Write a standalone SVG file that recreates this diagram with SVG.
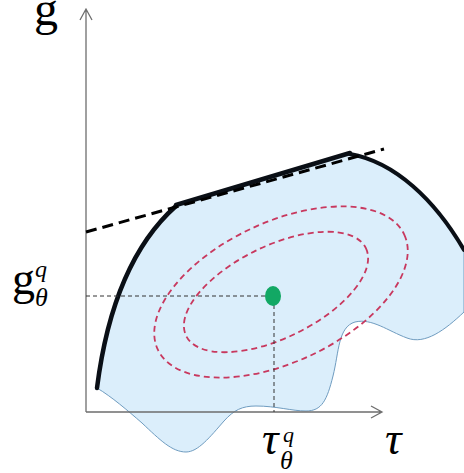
<svg xmlns="http://www.w3.org/2000/svg" width="464" height="473" viewBox="0 0 464 473">
<defs>
<style>
.axis{fill:none;stroke:#6e6e6e;stroke-width:1.3}
.blob{fill:#dbeefb;stroke:#6f9cc0;stroke-width:1}
.front{fill:none;stroke:#0a0f16;stroke-linecap:round}
.tangent{fill:none;stroke:#000;stroke-width:3;stroke-dasharray:11 6}
.contour{fill:none;stroke:#c8385e;stroke-width:1.8;stroke-dasharray:6 4}
.guide{fill:none;stroke:#333;stroke-width:1;stroke-dasharray:4 3}
.lbl{font-family:"Liberation Serif","Times New Roman",serif;fill:#000}
.it{font-style:italic}
</style>
</defs>
<g id="region">
<path class="blob" d="M97,388 Q113,262 176,206 L350,154 C395,162 435,200 464,250 L464,312 C445,330 425,345 407,338 C388,331 372,318 355,322 C338,327 339,352 333,376 C327,400 322,411 306,411 C292,411 276,406 256,406 C242,406 234,410 224,421 C210,437 198,452 186,452 C172,452 160,440 142,423 C127,410 112,397 97,388 Z"/>
</g>
<g id="contours">
<ellipse class="contour" cx="281" cy="292" rx="136" ry="70" transform="rotate(-25 281 292)"/>
<ellipse class="contour" cx="276" cy="292" rx="100" ry="46" transform="rotate(-26 276 292)"/>
</g>
<g id="frontier">
<path class="front" stroke-width="4.5" d="M97,388 Q113,262 176,206"/>
<path class="front" stroke-width="4.5" d="M176,205 L350,153"/>
<path class="front" stroke-width="4" d="M350,154 C395,162 435,200 464,250"/>
</g>
<g id="connectors">
<path class="axis" d="M86,412 L86,9 M80,20 L86,9 L92,20"/>
<path class="axis" d="M86,412 L382,412 M371,406 L382,412 L371,418"/>
<path class="tangent" d="M86,232 L384,149"/>
<path class="guide" d="M86,296 L265,296"/>
<path class="guide" d="M274,305 L274,412"/>
</g>
<g id="point">
<ellipse cx="273" cy="296" rx="8" ry="10" fill="#12a864"/>
</g>
<g id="labels">
<text class="lbl" x="34" y="25" font-size="48">g</text>
<text class="lbl" x="12" y="294" font-size="46">g</text>
<text class="lbl it" x="35" y="277" font-size="24">q</text>
<text class="lbl it" x="35" y="306" font-size="26">θ</text>
<text class="lbl it" x="262" y="454" font-size="46">τ</text>
<text class="lbl it" x="283" y="442" font-size="22">q</text>
<text class="lbl it" x="280" y="469" font-size="26">θ</text>
<text class="lbl it" x="385" y="454" font-size="46">τ</text>
</g>
</svg>
